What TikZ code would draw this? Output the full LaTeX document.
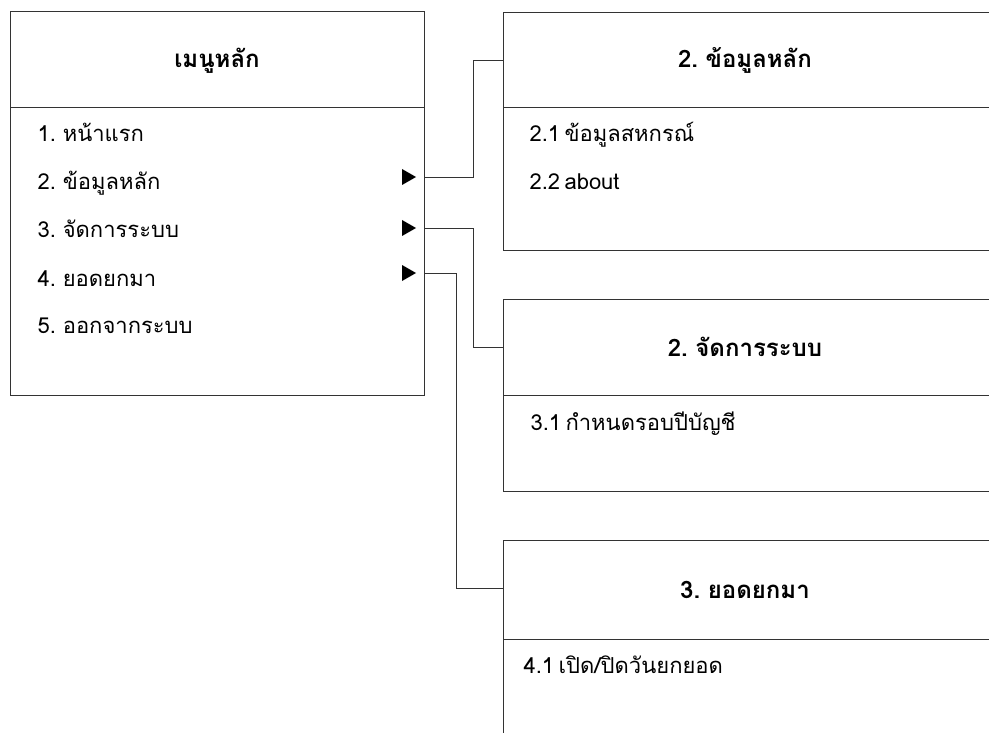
\documentclass[tikz,border=0pt]{standalone}
\usepackage{fontspec}
\setmainfont[Script=Thai, WordSpace=0.6]{Loma}
\usetikzlibrary{calc}

\tikzset{
  frame/.style={draw=black!80, line width=0.9pt},
  link/.style={draw=black!80, line width=0.9pt},
  title/.style={anchor=base, font=\fontsize{24pt}{28pt}\selectfont\bfseries},
  entry/.style={anchor=base west, font=\fontsize{22pt}{26pt}\selectfont},
}

\begin{document}
\begin{tikzpicture}[x=1pt,y=-1pt]
\useasboundingbox (0,0) rectangle (989,733);
\clip (0,0) rectangle (989,733);

% Draw main menu box
\node[frame, anchor=north west, minimum width=414pt, minimum height=384pt] (menu) at (10,11) {};
\draw[frame] (10,107) -- (424,107);
\node[title] (menutitle) at (217,68) {เมนูหลัก};
\node[entry] (m1) at (34,142) {1. หน้าแรก};
\node[entry] (m2) at (34,190) {2. ข้อมูลหลัก};
\node[entry] (m3) at (34,238) {3. จัดการระบบ};
\node[entry] (m4) at (34,286) {4. ยอดยกมา};
\node[entry] (m5) at (34,333) {5. ออกจากระบบ};

% Draw submenu markers
\coordinate (p2) at (416,177);
\coordinate (p3) at (416,228);
\coordinate (p4) at (416,273);
\foreach \p in {p2,p3,p4}
  \fill (\p) -- ++(-14,-8) -- ++(0,16) -- cycle;

% Draw submenu boxes
\node[frame, anchor=north west, minimum width=500pt, minimum height=238pt] (info) at (503,12) {};
\draw[frame] (503,107) -- (1010,107);
\node[title] (infotitle) at (745,68) {2. ข้อมูลหลัก};
\node[entry] (s21) at (526,142) {2.1 ข้อมูลสหกรณ์};
\node[entry] (s22) at (526,190) {2.2 about};

\node[frame, anchor=north west, minimum width=500pt, minimum height=192pt] (system) at (503,299) {};
\draw[frame] (503,395) -- (1010,395);
\node[title] (systemtitle) at (745,356) {2. จัดการระบบ};
\node[entry] (s31) at (527,430) {3.1 กำหนดรอบปีบัญชี};

\node[frame, anchor=north west, minimum width=500pt, minimum height=240pt] (carry) at (503,540) {};
\draw[frame] (503,639) -- (1010,639);
\node[title] (carrytitle) at (745,598) {3. ยอดยกมา};
\node[entry] (s41) at (520,673) {4.1 เปิด/ปิดวันยกยอด};

% Draw connectors
\draw[link] (p2 -| menu.east) -- ++(49,0) |- ([yshift=8pt]infotitle.base -| info.west);
\draw[link] (p3 -| menu.east) -- ++(49,0) |- ([yshift=9pt]systemtitle.base -| system.west);
\draw[link] (p4 -| menu.east) -- ++(32,0) |- ([yshift=10pt]carrytitle.base -| carry.west);

\end{tikzpicture}
\end{document}
